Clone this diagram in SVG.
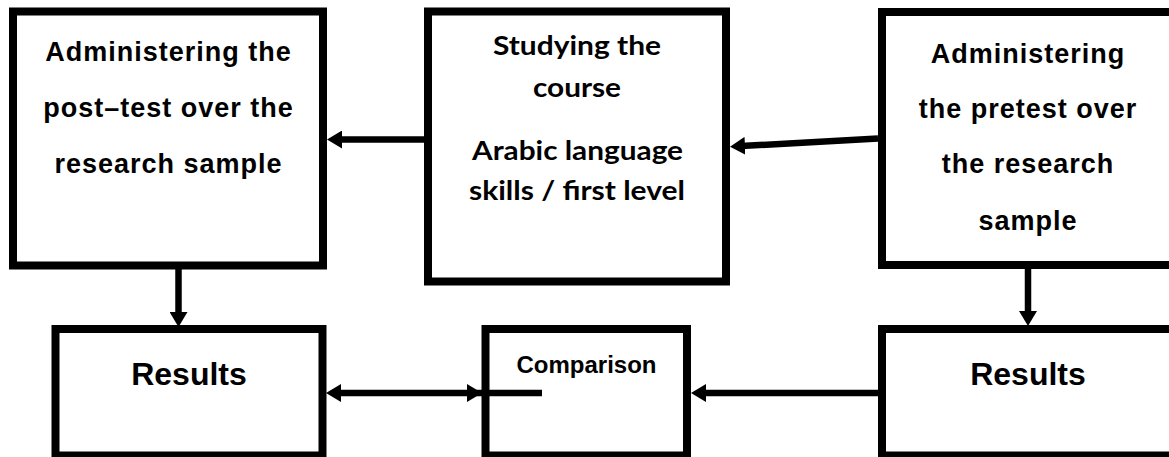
<svg xmlns="http://www.w3.org/2000/svg" width="1169" height="457" viewBox="0 0 1169 457">
<style>
.box{fill:#fff;stroke:#000;stroke-width:8}
.conn{stroke:#000;stroke-width:6.5;fill:none}
.ar{font-family:"Liberation Sans",Arial,sans-serif;font-weight:bold;fill:#000;text-anchor:middle}
.t27{font-size:27px;letter-spacing:1px}
.cal{font-family:Lato,"Open Sans",sans-serif;font-weight:bold;font-size:27px;fill:#000;text-anchor:middle}
</style>
<defs>
<marker id="ah" viewBox="0 0 15 18" refX="4" refY="9" markerWidth="15" markerHeight="18" markerUnits="userSpaceOnUse" orient="auto-start-reverse">
<path d="M0,0 L15,9 L0,18 z" fill="#000"/>
</marker>
</defs>
<rect width="1169" height="457" fill="#fff"/>
<g id="node-posttest">
<rect class="box" x="13" y="11.5" width="310" height="254"/>
<text class="ar t27" x="168.5" y="61">Administering the</text>
<text class="ar t27" x="168.5" y="117.3">post–test over the</text>
<text class="ar t27" x="168.5" y="173.3">research sample</text>
</g>
<g id="node-course">
<rect class="box" x="428" y="11.5" width="298" height="270"/>
<text class="cal" x="577" y="55" textLength="168" lengthAdjust="spacingAndGlyphs">Studying the</text>
<text class="cal" x="577" y="97" textLength="88" lengthAdjust="spacingAndGlyphs">course</text>
<text class="cal" x="577.5" y="160" textLength="211" lengthAdjust="spacingAndGlyphs">Arabic language</text>
<text class="cal" x="577" y="200" textLength="216" lengthAdjust="spacingAndGlyphs">skills / first level</text>
</g>
<g id="node-pretest">
<rect class="box" x="882" y="12" width="292" height="253"/>
<text class="ar t27" x="1028" y="62.7">Administering</text>
<text class="ar t27" x="1028" y="117.7">the pretest over</text>
<text class="ar t27" x="1028" y="173.3">the research</text>
<text class="ar t27" x="1028" y="229.5">sample</text>
</g>
<g id="node-results-left">
<rect class="box" x="55.5" y="329" width="267" height="126.5"/>
<text class="ar" x="189" y="385" font-size="32">Results</text>
</g>
<g id="node-comparison">
<rect class="box" x="485.5" y="329" width="201.5" height="126.5"/>
<text class="ar" x="586.5" y="373" font-size="24">Comparison</text>
</g>
<g id="node-results-right">
<rect class="box" x="882" y="329" width="292" height="126.5"/>
<text class="ar" x="1028" y="385" font-size="32">Results</text>
</g>
<g id="connectors">
<line class="conn" x1="424" y1="139.5" x2="338" y2="139.5" marker-end="url(#ah)"/>
<line class="conn" x1="878" y1="138.5" x2="741" y2="146.1" marker-end="url(#ah)"/>
<line class="conn" x1="178.5" y1="269" x2="178.5" y2="316" marker-end="url(#ah)"/>
<line class="conn" x1="1028" y1="269" x2="1028" y2="315" marker-end="url(#ah)"/>
<line class="conn" x1="337" y1="393" x2="471" y2="393" marker-start="url(#ah)" marker-end="url(#ah)"/>
<line class="conn" x1="470" y1="393" x2="542" y2="393"/>
<line class="conn" x1="878" y1="393" x2="702" y2="393" marker-end="url(#ah)"/>
</g>
</svg>
